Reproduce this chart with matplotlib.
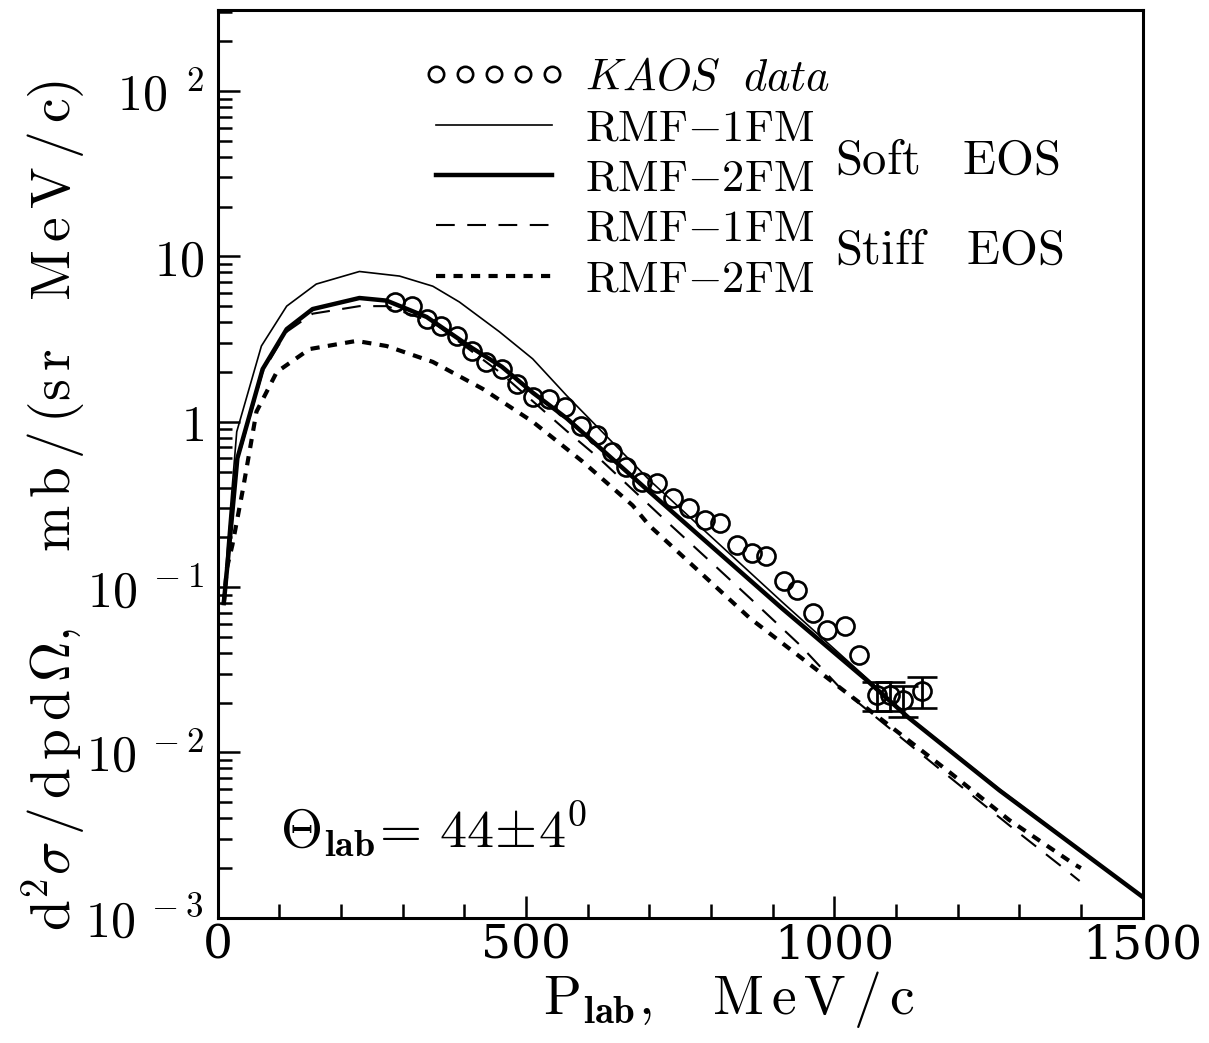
import numpy as np
import matplotlib
matplotlib.use('Agg')
import matplotlib.pyplot as plt
from matplotlib.ticker import FixedLocator, LogLocator, NullFormatter

plt.rcParams['mathtext.fontset'] = 'cm'
plt.rcParams['font.family'] = 'serif'
plt.rcParams['font.serif'] = ['DejaVu Serif']
plt.rcParams['axes.unicode_minus'] = False

# KAOS data (P_lab in MeV/c, cross section in mb/(sr MeV/c))
p_kaos = [287, 315, 339, 363, 389, 412, 436, 461, 485, 511, 538, 563, 590, 615,
          639, 663, 688, 713, 738, 765, 790, 814, 842, 866, 890, 919, 940, 965,
          989, 1017, 1041]
s_kaos = [5.28, 5.0, 4.17, 3.78, 3.30, 2.68, 2.30, 2.08, 1.69, 1.42, 1.38, 1.23,
          0.946, 0.835, 0.66, 0.536, 0.435, 0.424, 0.344, 0.299, 0.253, 0.243,
          0.179, 0.160, 0.154, 0.109, 0.096, 0.070, 0.055, 0.058, 0.039]
p_kaos_err = [1069, 1090, 1111, 1143]
s_kaos_err = [0.0223, 0.0223, 0.0208, 0.0236]
e_kaos_err = [0.0045, 0.0045, 0.0045, 0.005]

# soft EOS, RMF-1FM (thin solid)
p_soft1 = [10, 16, 31, 71, 112, 160, 230, 295, 349, 392, 457, 511, 566, 700,
           916, 1052, 1120, 1268, 1500]
s_soft1 = [0.08, 0.18, 0.87, 2.87, 5.0, 6.8, 8.1, 7.6, 6.6, 5.3, 3.5, 2.4, 1.44,
           0.445, 0.081, 0.0283, 0.0165, 0.006, 0.00135]
# soft EOS, RMF-2FM (thick solid)
p_soft2 = [10, 19, 32, 73, 112, 154, 230, 274, 339, 412, 461, 511, 566, 700,
           916, 1052, 1120, 1268, 1500]
s_soft2 = [0.08, 0.18, 0.60, 2.08, 3.63, 4.8, 5.6, 5.4, 4.3, 2.8, 2.15, 1.5,
           1.05, 0.378, 0.074, 0.0275, 0.0163, 0.0059, 0.00134]
# stiff EOS, RMF-1FM (dashed)
p_stiff1 = [10, 19, 32, 73, 112, 154, 230, 274, 349, 457, 566, 619, 728, 798,
            863, 944, 1009, 1078, 1187, 1289, 1369, 1398]
s_stiff1 = [0.08, 0.17, 0.58, 2.0, 3.5, 4.5, 5.0, 5.0, 4.0, 2.0, 0.88, 0.60,
            0.25, 0.144, 0.086, 0.0448, 0.0247, 0.0152, 0.0071, 0.0035,
            0.00204, 0.00167]
# stiff EOS, RMF-2FM (dotted)
p_stiff2 = [10, 15, 24, 41, 63, 96, 149, 225, 274, 349, 430, 511, 592, 673,
            700, 863, 1009, 1090, 1187, 1284, 1390, 1400]
s_stiff2 = [0.08, 0.13, 0.18, 0.39, 1.15, 2.0, 2.75, 3.08, 2.87, 2.30, 1.58,
            1.0, 0.574, 0.312, 0.236, 0.065, 0.0247, 0.0145, 0.0076, 0.0039,
            0.0021, 0.0020]

fig = plt.figure(figsize=(12.09, 10.43), dpi=100)
ax = fig.add_axes([0.180, 0.120, 0.765, 0.870])

l1, = ax.plot(p_soft1, s_soft1, color='black', lw=1.2, label=r'$\mathrm{RMF{-}1FM}$')
l2, = ax.plot(p_soft2, s_soft2, color='black', lw=3.2, label=r'$\mathrm{RMF{-}2FM}$')
l3, = ax.plot(p_stiff1, s_stiff1, color='black', lw=1.5, dashes=(9, 6),
              label=r'$\mathrm{RMF{-}1FM}$')
l4, = ax.plot(p_stiff2, s_stiff2, color='black', lw=3.0, dashes=(2.2, 2.0),
              label=r'$\mathrm{RMF{-}2FM}$')
kd, = ax.plot(p_kaos, s_kaos, 'o', ls='none', ms=13, mfc='none', mec='black',
              mew=1.9, label=r'$KAOS\ \ data$')
ax.errorbar(p_kaos_err, s_kaos_err, yerr=e_kaos_err, fmt='o', ms=13,
            mfc='none', mec='black', mew=1.9, ecolor='black', elinewidth=2,
            capsize=11, capthick=2)

ax.set_xlim(0, 1500)
ax.set_yscale('log')
ax.set_ylim(1e-3, 3.07e2)

ax.xaxis.set_major_locator(FixedLocator([0, 500, 1000, 1500]))
ax.xaxis.set_minor_locator(FixedLocator(np.arange(0, 1501, 100)))
ax.set_xticklabels(['0', '500', '1000', '1500'])
ax.yaxis.set_major_locator(FixedLocator([1e-3, 1e-2, 1e-1, 1, 10, 100]))
ax.yaxis.set_minor_locator(LogLocator(base=10, subs=np.arange(2, 10)))
ax.yaxis.set_minor_formatter(NullFormatter())
ax.set_yticklabels([r'$10^{\;-3}$', r'$10^{\;-2}$', r'$10^{\;-1}$', r'$1$',
                    r'$10$', r'$10^{\;\;2}$'])

ax.tick_params(which='both', direction='in', labelsize=34, width=1.8,
               top=False, right=False)
ax.tick_params(axis='y', labelsize=36)
ax.tick_params(which='major', length=16)
ax.tick_params(axis='x', which='major', pad=4)
ax.tick_params(axis='y', which='major', pad=10)
ax.tick_params(which='minor', length=10)
for s in ax.spines.values():
    s.set_linewidth(2.2)

leg = ax.legend([kd, l1, l2, l3, l4],
                [kd.get_label(), l1.get_label(), l2.get_label(),
                 l3.get_label(), l4.get_label()],
                loc='upper left', bbox_to_anchor=(0.222, 0.950),
                frameon=False, fontsize=32, numpoints=5, markerscale=0.85,
                handlelength=3.2, handletextpad=0.45, labelspacing=0.16,
                borderpad=0, borderaxespad=0)

ax.text(0.667, 0.835, r'$\mathrm{Soft\ \ \ EOS}$', transform=ax.transAxes,
        fontsize=35, va='center', ha='left')
ax.text(0.667, 0.736, r'$\mathrm{Stiff\ \ \ EOS}$', transform=ax.transAxes,
        fontsize=35, va='center', ha='left')
ax.text(0.067, 0.097, r'$\Theta_{\mathbf{lab}}\!=\,44\!\pm\!4^{0}$',
        transform=ax.transAxes, fontsize=39, va='center', ha='left')

fig.text(0.045, 0.515,
         r'$\mathrm{d^2\sigma\,/\,d\,p\,d\,\Omega,\ \ \ \ m\,b\,/\,(s\,r\ \ \ M\,e\,V\,/\,c)}$',
         rotation=90, fontsize=40, ha='center', va='center')
fig.text(0.603, 0.028, r'$\mathrm{P_{\mathbf{lab}},\ \ \ M\,e\,V\,/\,c}$',
         fontsize=40, ha='center', va='baseline')

fig.savefig('out.png', dpi=100)
